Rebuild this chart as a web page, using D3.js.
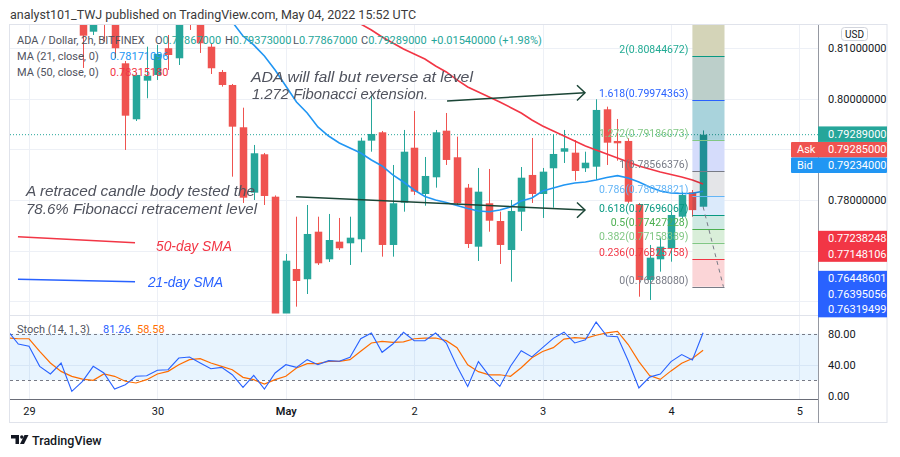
<!DOCTYPE html>
<html><head><meta charset="utf-8">
<script src="https://cdn.jsdelivr.net/npm/d3@7/dist/d3.min.js"></script>
<style>
html,body{margin:0;padding:0;background:#fff;}
svg{display:block;font-family:Roboto,"Noto Sans",sans-serif;}
</style></head><body>
<svg id="chart" width="900" height="457"></svg>
<script>
// ---------- DATA ----------
// candle slots = 2h bars counted from Apr 29 00:00 (slot 0); first visible bar is slot 5
const candleStart = 5;
const opens = [0.81750,0.81322,0.81700,0.81550,0.80698,0.79593,0.80355,0.80468,0.80995,0.80797,
 0.81720,0.81650,0.81026,0.80527,0.80270,0.79435,0.78144,0.78902,0.78065,0.75700,
 0.76638,0.76435,0.77374,0.76829,0.77177,0.77145,0.77224,0.79171,0.79336,0.77112,
 0.77947,0.79032,0.78118,0.78448,0.79368,0.78843,0.78243,0.77078,0.77935,0.77585,
 0.77013,0.77769,0.78494,0.78118,0.78626,0.78953,0.78934,0.78626,0.78657,0.79790,
 0.79165,0.79165,0.77915,0.76421,0.76829,0.77047,0.77670,0.78152,0.77867];
const highs = [0.81900,0.81800,0.81900,0.81650,0.80744,0.80507,0.81026,0.81060,0.81257,0.81750,
 0.81850,0.81780,0.81079,0.80566,0.80290,0.79822,0.79086,0.78928,0.78090,0.76934,
 0.77670,0.77901,0.77670,0.77724,0.77645,0.77670,0.79230,0.80073,0.79362,0.78691,
 0.79382,0.79757,0.78849,0.79382,0.79717,0.79250,0.78316,0.78632,0.78612,0.77769,
 0.78000,0.78651,0.79224,0.78632,0.79297,0.79382,0.79184,0.78953,0.79988,0.79842,
 0.79599,0.79218,0.77941,0.77112,0.77250,0.77769,0.78164,0.78197,0.79373];
const lows = [0.80606,0.81257,0.81125,0.80803,0.78987,0.79559,0.80008,0.80369,0.80566,0.80665,
 0.81356,0.80902,0.80487,0.80237,0.78460,0.77941,0.78000,0.77901,0.75450,0.75500,
 0.75894,0.76144,0.76717,0.76776,0.77013,0.76717,0.76968,0.78953,0.76881,0.76881,
 0.77769,0.78099,0.77887,0.78243,0.78691,0.77901,0.77052,0.76796,0.77374,0.76737,
 0.76387,0.77388,0.77941,0.77645,0.77848,0.78730,0.78381,0.78553,0.78395,0.78691,
 0.78776,0.77941,0.76091,0.76026,0.76585,0.76782,0.77645,0.77670,0.77867];
const closes = [0.81243,0.81700,0.81550,0.80995,0.79664,0.80468,0.80454,0.80882,0.80862,0.81620,
 0.81660,0.81093,0.80600,0.80270,0.79447,0.78045,0.78922,0.78079,0.75600,0.76802,
 0.76401,0.77329,0.76750,0.77210,0.77047,0.77256,0.79171,0.79303,0.77112,0.77935,
 0.78953,0.78164,0.78474,0.79336,0.78790,0.77935,0.77131,0.78164,0.77591,0.77112,
 0.77783,0.78440,0.78118,0.78559,0.78908,0.79021,0.78572,0.78736,0.79777,0.79131,
 0.79119,0.77966,0.76421,0.76861,0.77078,0.77704,0.78099,0.77800,0.79289];

const ma21Start = 18;
const ma21 = [0.81672,0.81514,0.81237,0.81060,0.80843,0.80566,0.80250,0.79935,0.79717,0.79441,
 0.79263,0.79125,0.79026,0.78928,0.78790,0.78671,0.78494,0.78355,0.78197,0.78069,
 0.78000,0.77951,0.77891,0.77832,0.77783,0.77769,0.77803,0.77862,0.77980,0.78039,
 0.78178,0.78237,0.78296,0.78336,0.78355,0.78395,0.78444,0.78480,0.78434,0.78355,
 0.78257,0.78178,0.78138,0.78128,0.78132,0.78171];
const ma50Start = 30;
const ma50 = [0.81593,0.81474,0.81356,0.81218,0.81099,0.80981,0.80882,0.80783,0.80645,0.80527,
 0.80369,0.80231,0.80132,0.80033,0.79935,0.79826,0.79717,0.79579,0.79461,0.79362,
 0.79263,0.79165,0.79066,0.78987,0.78908,0.78829,0.78750,0.78671,0.78612,0.78553,
 0.78503,0.78454,0.78395,0.78316];

const stochStart = -2;
const stochK = [83.9,66.7,63.7,37.9,28.0,42.2,5.7,18.6,37.9,29.3,
 8.6,14.2,25.0,25.8,32.8,33.5,48.6,49.9,42.2,34.8,
 36.6,27.1,10.8,26.3,8.6,29.3,40.0,36.6,46.5,40.0,
 45.2,44.4,49.5,73.5,80.9,56.0,66.7,81.8,71.0,71.0,
 80.9,68.0,38.0,12.0,44.0,26.0,12.0,38.0,58.0,50.0,
 62.0,74.0,82.0,68.0,72.0,95.0,77.0,76.0,45.0,10.0,
 24.0,28.0,44.0,53.0,46.0,81.26];
const stochD = [74.4,73.5,73.5,57.3,42.2,31.4,25.0,21.5,19.8,28.0,
 25.0,18.6,16.4,20.7,28.0,31.4,40.0,46.5,47.8,42.2,
 37.9,33.5,23.7,20.7,15.1,20.7,25.0,35.7,41.3,41.3,
 44.4,44.4,46.5,57.3,68.0,70.2,68.9,69.4,73.5,74.4,
 74.4,71.0,62.0,40.0,31.0,27.0,27.0,25.0,36.0,49.0,
 57.0,62.0,73.0,75.0,74.0,78.0,81.0,83.0,66.0,44.0,
 26.0,21.0,32.0,42.0,48.0,58.58];

const fibRatios = [0, 0.236, 0.382, 0.5, 0.618, 0.786, 1, 1.272, 1.618, 2, 2.618];
const fibPrices = [0.76288080,0.76825758,0.77158389,0.77427228,0.77696067,0.78078821,0.78566376,0.79186073,0.79974363,0.80844672,0.82252000];
const fibSlots = [62, 65];

const dayTicks = [0, 12, 24, 36, 48, 60, 72];
const dayLabels = ["29", "30", "May", "2", "3", "4", "5"];
const priceTicks = [0.81, 0.80, 0.79, 0.78, 0.77, 0.76];
const priceLabelTicks = [0.81, 0.80, 0.78];   // the others are covered by price tags
const stochTicks = [80, 40, 0];

const lastClose = 0.79289;
const askBid = [["Ask", "0.79285000"], ["Bid", "0.79234000"]];
const redMarks = [0.77238248, 0.77148106];
const blueMarks = [0.76448601, 0.76395056, 0.76319499];

// ---------- STYLE / LAYOUT ----------
const UP = "#26a69a", DN = "#ef5350";
const L = 10, R = 818, AXR = 887;
const MT = 25, MB = 313.5, ST = 316.5, SB = 399.5;

const svg = d3.select("#chart");
const x = d3.scaleLinear().domain([0, 72]).range([29, 799.4]);
const y = d3.scaleLinear().domain([0.76, 0.81]).range([301.3, 48]);
const ys = d3.scaleLinear().domain([0, 100]).range([395.7, 318.2]);

const defs = svg.append("defs");
defs.append("clipPath").attr("id", "cm").append("rect").attr("x", L).attr("y", MT).attr("width", R - L).attr("height", MB - MT);
defs.append("clipPath").attr("id", "cs").append("rect").attr("x", L).attr("y", ST).attr("width", R - L).attr("height", SB - ST - 0.5);

// header
svg.append("text").attr("x", 10).attr("y", 14).attr("dominant-baseline", "central")
  .attr("font-size", 12.5).attr("fill", "#3a3a3a")
  .text("analyst101_TWJ published on TradingView.com, May 04, 2022 15:52 UTC");

// frame
svg.append("rect").attr("x", 9.5).attr("y", 24.5).attr("width", AXR - 9.5).attr("height", 398)
  .attr("fill", "none").attr("stroke", "#e0e3eb");

// grids
const grid = svg.append("g").attr("stroke", "#edf0f6").attr("stroke-width", 1);
dayTicks.forEach(t => {
  const xx = Math.round(x(t)) + 0.5;
  if (xx < R) grid.append("line").attr("x1", xx).attr("x2", xx).attr("y1", MT).attr("y2", SB);
});
priceTicks.forEach(p => {
  const yy = Math.round(y(p)) + 0.5;
  grid.append("line").attr("x1", L).attr("x2", R).attr("y1", yy).attr("y2", yy);
});
grid.append("line").attr("x1", L).attr("x2", R).attr("y1", Math.round(ys(40)) + 0.5).attr("y2", Math.round(ys(40)) + 0.5);

// pane separator
svg.append("line").attr("x1", L).attr("x2", AXR).attr("y1", 315.5).attr("y2", 315.5).attr("stroke", "#e0e3eb");

// ---------- MAIN PANE ----------
const main = svg.append("g").attr("clip-path", "url(#cm)");
main.append("line").attr("x1", L).attr("x2", R).attr("y1", y(lastClose)).attr("y2", y(lastClose))
  .attr("stroke", UP).attr("stroke-dasharray", "1,2").attr("stroke-width", 1);

const candles = opens.map((o, i) => ({ s: candleStart + i, o, h: highs[i], l: lows[i], c: closes[i] }));
const cg = main.append("g");
candles.forEach(d => {
  const col = d.c >= d.o ? UP : DN;
  const cx = x(d.s);
  cg.append("line").attr("x1", Math.round(cx) + 0.5).attr("x2", Math.round(cx) + 0.5)
    .attr("y1", y(d.h)).attr("y2", y(d.l)).attr("stroke", col).attr("stroke-width", 1);
  const top = y(Math.max(d.o, d.c)), bot = y(Math.min(d.o, d.c));
  cg.append("rect").attr("x", Math.round(cx) + 0.5 - 3.75).attr("width", 7.5)
    .attr("y", top).attr("height", Math.max(1, bot - top)).attr("fill", col);
});

const line = d3.line().x(d => x(d.s)).y(d => y(d.v));
main.append("path").datum(ma21.map((v, i) => ({ s: ma21Start + i, v })))
  .attr("d", line).attr("fill", "none").attr("stroke", "#2196f3").attr("stroke-width", 1.6);
main.append("path").datum(ma50.map((v, i) => ({ s: ma50Start + i, v })))
  .attr("d", line).attr("fill", "none").attr("stroke", "#f23645").attr("stroke-width", 1.6);

// fib extension tool
const bandColors = ["#fbd5d7", "#e6f2e5", "#d9eed9", "#cfe9e3", "#dbeafb", "#e4e5e8", "#d5dcfb", "#a9d3dc", "#bccfca", "#d4d4b8"];
const fibLine = ["#787b86", "#f23645", "#81c784", "#4caf50", "#089981", "#64b5f6", "#787b86", "#81c784", "#2962ff", "#089981", "#f23645"];
const fibText = ["#787b86", "#f23645", "#81c784", "#4caf50", "#089981", "#64b5f6", "#787b86", "#81c784", "#2962ff", "#22ab94", "#f23645"];
const fx0 = x(fibSlots[0]), fx1 = x(fibSlots[1]);
const fib = main.append("g");
for (let i = 0; i < fibPrices.length - 1; i++) {
  fib.append("rect").attr("x", fx0).attr("width", fx1 - fx0)
    .attr("y", y(fibPrices[i + 1])).attr("height", y(fibPrices[i]) - y(fibPrices[i + 1]))
    .attr("fill", bandColors[i]).style("mix-blend-mode", "multiply");
}
fibPrices.forEach((p, i) => {
  fib.append("line").attr("x1", fx0).attr("x2", fx1).attr("y1", Math.round(y(p)) + 0.5).attr("y2", Math.round(y(p)) + 0.5)
    .attr("stroke", fibLine[i]).attr("stroke-width", 1);
});
fib.append("line").attr("x1", x(63)).attr("y1", y(0.77867)).attr("x2", x(64.9)).attr("y2", y(fibPrices[0]))
  .attr("stroke", "#787b86").attr("stroke-dasharray", "4,4").attr("stroke-width", 1);
fibPrices.forEach((p, i) => {
  if (fibRatios[i] > 2) return;
  fib.append("text").attr("x", fx0 - 4).attr("y", y(p) - 3).attr("text-anchor", "end")
    .attr("font-size", 10.5).attr("fill", fibText[i])
    .text(fibRatios[i] + "(" + p.toFixed(8) + ")");
});

// annotations (drawings)
const ann = main.append("g");
function arrow(a, b) {
  const x1 = x(a[0]), y1 = y(a[1]), x2 = x(b[0]), y2 = y(b[1]);
  ann.append("line").attr("x1", x1).attr("y1", y1).attr("x2", x2).attr("y2", y2)
    .attr("stroke", "#1b4536").attr("stroke-width", 1.5);
  ann.append("path").attr("d", `M${x2 - 8},${y2 - 7.5} L${x2},${y2} L${x2 - 8},${y2 + 7.8}`)
    .attr("fill", "none").attr("stroke", "#1b4536").attr("stroke-width", 1.5);
}
arrow([39.07, 0.79954], [51.96, 0.80118]);
arrow([24.96, 0.78065], [51.96, 0.77803]);
ann.append("line").attr("x1", x(-1.03)).attr("y1", y(0.77276)).attr("x2", x(9.91)).attr("y2", y(0.77157))
  .attr("stroke", "#f23645").attr("stroke-width", 1.5);
ann.append("line").attr("x1", x(-1.03)).attr("y1", y(0.76435)).attr("x2", x(9.91)).attr("y2", y(0.76387))
  .attr("stroke", "#2962ff").attr("stroke-width", 1.5);

function itext(t, xx, yy, len, col, fs) {
  ann.append("text").attr("x", xx).attr("y", yy).attr("dominant-baseline", "central")
    .attr("font-family", "'Liberation Sans', Arial, sans-serif").attr("font-style", "italic")
    .attr("font-size", fs).attr("fill", col)
    .attr("textLength", len).attr("lengthAdjust", "spacingAndGlyphs").text(t);
}
itext("ADA will fall but reverse at level", 251, 77, 222, "#50535e", 14.5);
itext("1.272 Fibonacci extension.", 252, 94, 176, "#50535e", 14.5);
itext("A retraced candle body tested the", 26, 191, 229, "#50535e", 14.5);
itext("78.6% Fibonacci retracement level", 26, 208.5, 231, "#50535e", 14.5);
itext("50-day SMA", 156, 246, 76, "#f23645", 14);
itext("21-day SMA", 148, 282, 75, "#2962ff", 14);

// legend
const lg = svg.append("g").attr("font-size", 11);
lg.append("text").attr("x", 17).attr("y", 40).attr("dominant-baseline", "central").attr("fill", "#50535e").text("ADA / Dollar, 2h, BITFINEX");
const ohlc = [["O", "0.77867000", 155], ["H", "0.79373000", 225], ["L", "0.77867000", 293], ["C", "0.79289000", 361]];
ohlc.forEach(d => {
  const t = lg.append("text").attr("x", d[2]).attr("y", 40).attr("dominant-baseline", "central");
  t.append("tspan").attr("fill", "#50535e").text(d[0]);
  t.append("tspan").attr("fill", UP).text(d[1]);
});
lg.append("text").attr("x", 431).attr("y", 40).attr("dominant-baseline", "central").attr("fill", UP).text("+0.01540000 (+1.98%)");
lg.append("text").attr("x", 17).attr("y", 56).attr("dominant-baseline", "central").attr("fill", "#50535e").text("MA (21, close, 0)");
lg.append("text").attr("x", 110).attr("y", 56).attr("dominant-baseline", "central").attr("fill", "#2196f3").text("0.78171096");
lg.append("text").attr("x", 17).attr("y", 72).attr("dominant-baseline", "central").attr("fill", "#50535e").text("MA (50, close, 0)");
lg.append("text").attr("x", 110).attr("y", 72).attr("dominant-baseline", "central").attr("fill", "#f23645").text("0.78315180");

// ---------- STOCH PANE ----------
const st = svg.append("g").attr("clip-path", "url(#cs)");
st.append("rect").attr("x", L).attr("width", R - L).attr("y", ys(80)).attr("height", ys(20) - ys(80))
  .attr("fill", "rgba(33,150,243,0.1)");
[80, 20].forEach(v => st.append("line").attr("x1", L).attr("x2", R).attr("y1", Math.round(ys(v)) + 0.5).attr("y2", Math.round(ys(v)) + 0.5)
  .attr("stroke", "#787b86").attr("stroke-dasharray", "3,3"));
const sline = d3.line().x(d => x(d.s)).y(d => ys(d.v));
st.append("path").datum(stochD.map((v, i) => ({ s: stochStart + i, v })))
  .attr("d", sline).attr("fill", "none").attr("stroke", "#ff6d00").attr("stroke-width", 1.2);
st.append("path").datum(stochK.map((v, i) => ({ s: stochStart + i, v })))
  .attr("d", sline).attr("fill", "none").attr("stroke", "#2962ff").attr("stroke-width", 1.1);
const sg = svg.append("g").attr("font-size", 11);
sg.append("text").attr("x", 17).attr("y", 329).attr("dominant-baseline", "central").attr("fill", "#50535e").text("Stoch (14, 1, 3)");
sg.append("text").attr("x", 103).attr("y", 329).attr("dominant-baseline", "central").attr("fill", "#2962ff").text("81.26");
sg.append("text").attr("x", 137).attr("y", 329).attr("dominant-baseline", "central").attr("fill", "#ff6d00").text("58.58");

// ---------- AXES ----------
svg.append("line").attr("x1", R + 0.5).attr("x2", R + 0.5).attr("y1", MT).attr("y2", 423).attr("stroke", "#9598a1");
svg.append("line").attr("x1", L).attr("x2", R).attr("y1", SB).attr("y2", SB).attr("stroke", "#6a6d78");

const ya = svg.append("g").attr("transform", `translate(${R},0)`)
  .call(d3.axisRight(y).tickValues(priceLabelTicks).tickFormat(d3.format(".8f")).tickSize(0).tickPadding(10));
ya.select(".domain").remove();
ya.selectAll("text").attr("font-size", 11).attr("font-family", "Roboto, sans-serif").attr("fill", "#131722");

const sa = svg.append("g").attr("transform", `translate(${R},0)`)
  .call(d3.axisRight(ys).tickValues(stochTicks).tickFormat(d3.format(".2f")).tickSize(0).tickPadding(10));
sa.select(".domain").remove();
sa.selectAll("text").attr("font-size", 11).attr("font-family", "Roboto, sans-serif").attr("fill", "#131722");

const xa = svg.append("g").attr("transform", `translate(0,${SB})`)
  .call(d3.axisBottom(x).tickValues(dayTicks).tickFormat((d, i) => dayLabels[i]).tickSize(0).tickPadding(8));
xa.select(".domain").remove();
xa.selectAll("text").attr("font-size", 11).attr("font-family", "Roboto, sans-serif").attr("fill", "#131722")
  .attr("font-weight", (d, i) => dayLabels[i] === "May" ? 600 : 400);

// USD tag
svg.append("rect").attr("x", 841.5).attr("y", 27.5).attr("width", 26).attr("height", 13).attr("rx", 3)
  .attr("fill", "#fff").attr("stroke", "#d1d4dc");
svg.append("text").attr("x", 854.5).attr("y", 34).attr("text-anchor", "middle").attr("dominant-baseline", "central")
  .attr("font-size", 10).attr("fill", "#131722").text("USD");

// price tags
const tags = svg.append("g").attr("font-size", 11).attr("fill", "#fff");
const cy = y(lastClose) - 0.5, th = 15.5;
tags.append("rect").attr("x", R).attr("y", cy - th / 2).attr("width", AXR - R).attr("height", th).attr("fill", UP);
tags.append("text").attr("x", 828).attr("y", cy).attr("dominant-baseline", "central").text("0.79289000");
const abCol = ["#ef5350", "#2196f3"];
askBid.forEach((d, i) => {
  const yy = cy + th * (i + 1);
  tags.append("rect").attr("x", 791).attr("y", yy - th / 2).attr("width", AXR - 791).attr("height", th).attr("fill", abCol[i]).attr("rx", 1);
  tags.append("text").attr("x", 797).attr("y", yy).attr("dominant-baseline", "central").text(d[0]);
  tags.append("text").attr("x", 828).attr("y", yy).attr("dominant-baseline", "central").text(d[1]);
});
function stack(vals, col) {
  const y0 = y(vals[0]);
  tags.append("rect").attr("x", R).attr("y", y0 - th / 2).attr("width", AXR - R).attr("height", th * vals.length).attr("fill", col);
  vals.forEach((v, i) => tags.append("text").attr("x", 828).attr("y", y0 + i * th).attr("dominant-baseline", "central").text(v.toFixed(8)));
}
stack(redMarks, "#f23645");
stack(blueMarks, "#2962ff");

// footer logo
const lo = svg.append("g").attr("fill", "#131722");
lo.append("path").attr("d", "M11,435 h8 v9 h-3.5 v-5.5 h-4.5 z");
lo.append("circle").attr("cx", 21.8).attr("cy", 437).attr("r", 1.7);
lo.append("path").attr("d", "M24.5,435 h4 l-4.5,9 h-4 z");
svg.append("text").attr("x", 32).attr("y", 440).attr("dominant-baseline", "central")
  .attr("font-size", 12.5).attr("font-weight", 500).attr("fill", "#131722").text("TradingView");
</script></body></html>
